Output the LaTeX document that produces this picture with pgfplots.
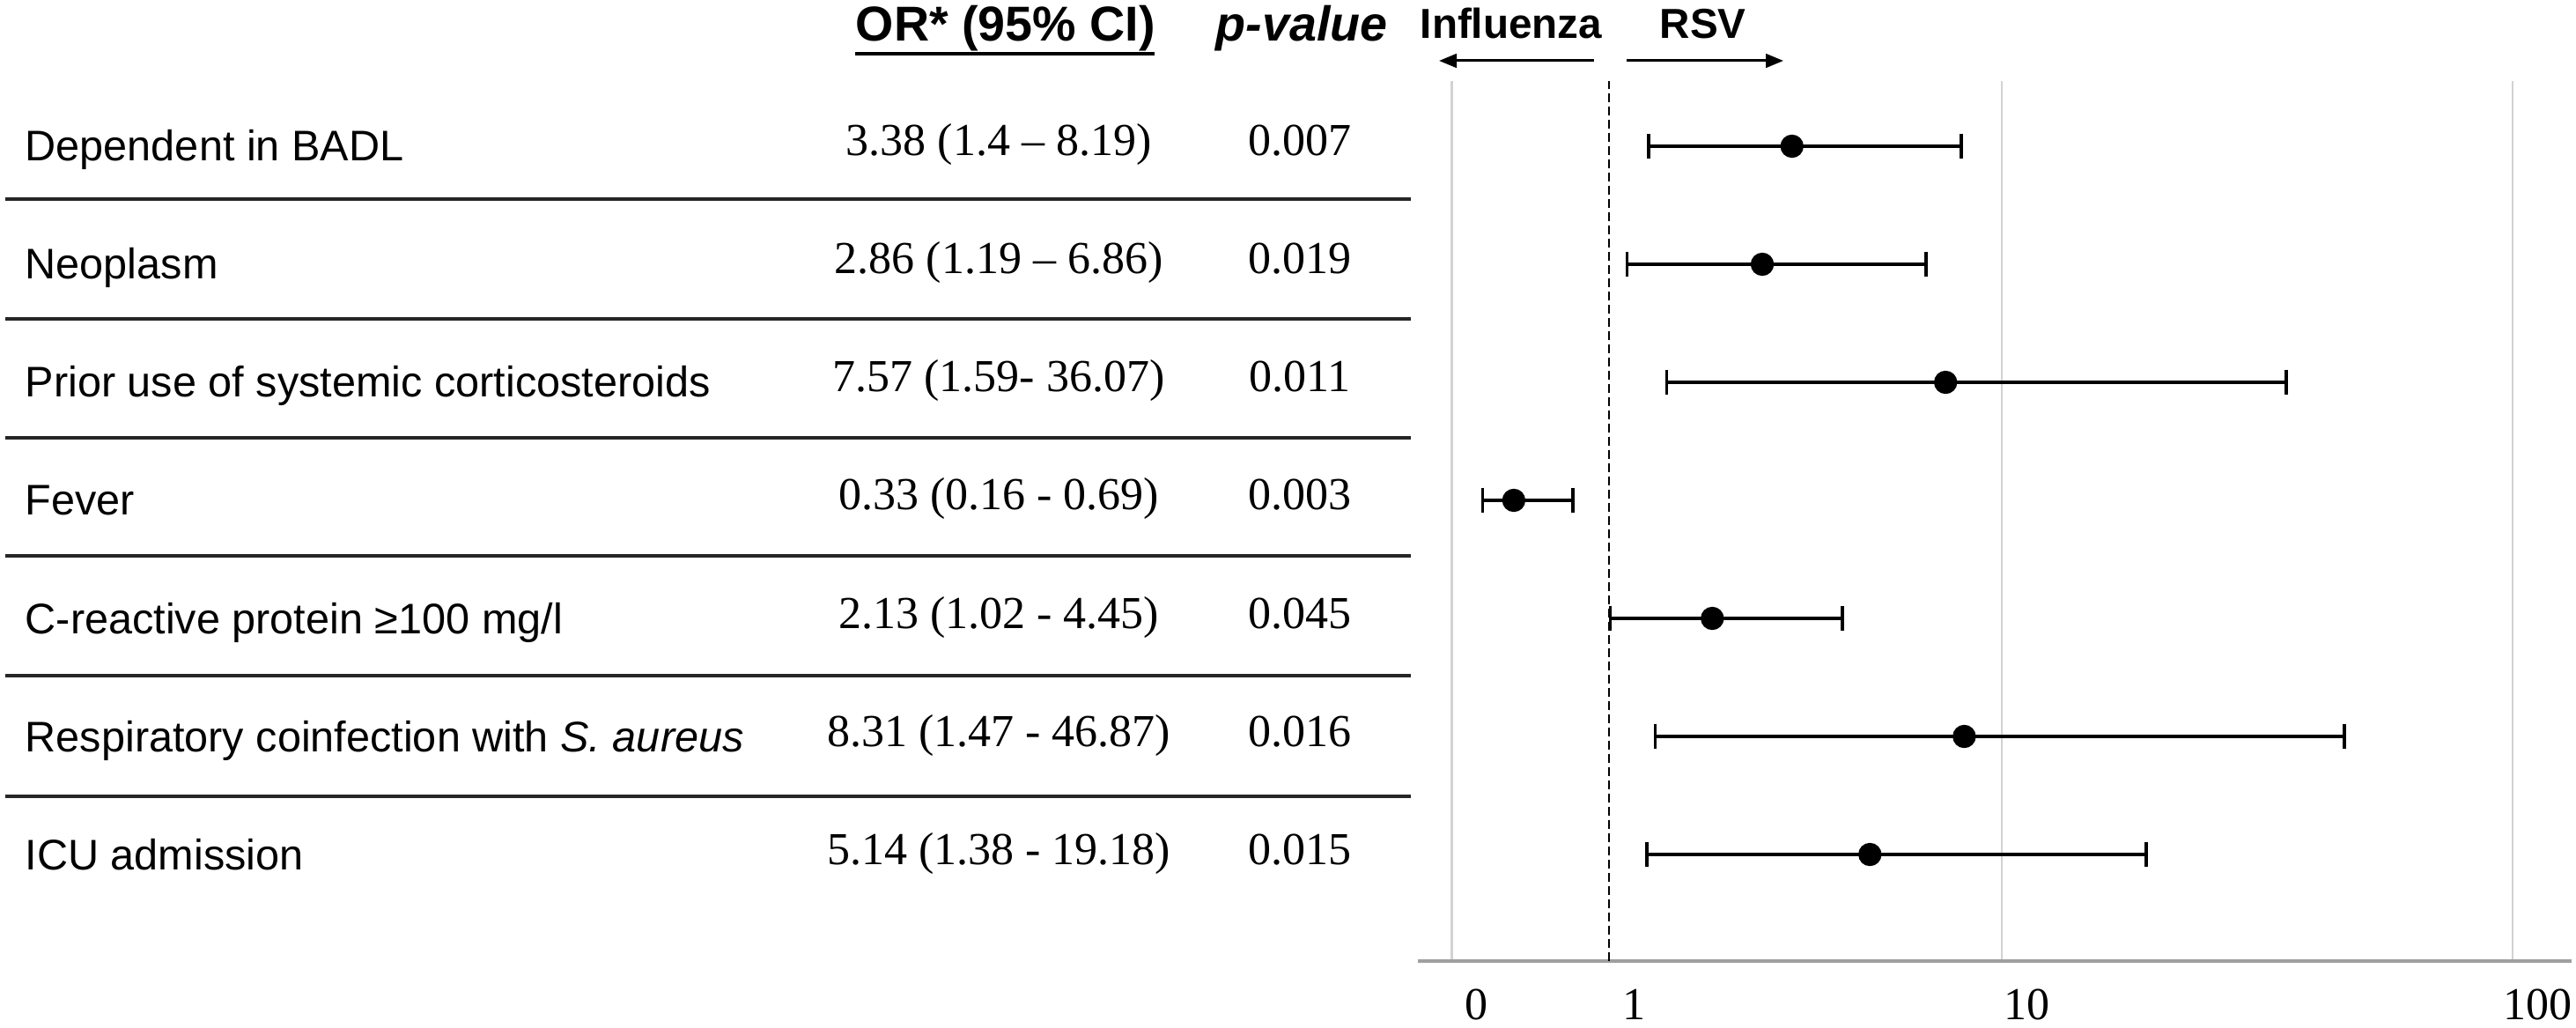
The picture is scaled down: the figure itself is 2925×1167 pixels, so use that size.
\documentclass[border=0pt]{standalone}
\usepackage{fontspec}
\setmainfont{Liberation Serif}
\setsansfont{Liberation Sans}
\usepackage{pgfplots}
\pgfplotsset{compat=1.18}
\usetikzlibrary{arrows.meta}

\newcommand\lab{\sffamily\fontsize{12.15bp}{14bp}\selectfont}
\newcommand\ser{\rmfamily\fontsize{13bp}{15bp}\selectfont}
\newcommand\hdr{\sffamily\bfseries\fontsize{13.9bp}{16bp}\selectfont}
\newcommand\hdrb{\sffamily\bfseries\fontsize{11.9bp}{14bp}\selectfont}

\begin{document}
\begin{tikzpicture}
\begin{scope}[x=0.25bp,y=-0.25bp]
\path[use as bounding box] (0,0) rectangle (2925,1167);
% headers
\node[anchor=base west,inner sep=0] at (971,47) {\hdr OR* (95\% CI)};
\draw[line width=1bp] (971,61) -- (1311,61);
\node[anchor=base west,inner sep=0] at (1380,47) {\hdr\itshape p-value};
\node[anchor=base west,inner sep=0] at (1612,44) {\hdrb Influenza};
\node[anchor=base west,inner sep=0] at (1884,44) {\hdrb RSV};
\draw[line width=0.75bp,-{Triangle[length=5bp,width=3.9bp]}] (1810,69) -- (1634,69);
\draw[line width=0.75bp,-{Triangle[length=5bp,width=3.9bp]}] (1847,69) -- (2025,69);
% separators
\foreach \yy in {226,362,497,631,767,904}
  \draw[line width=1bp,black!85] (6,\yy) -- (1602,\yy);
% rows
\node[anchor=base west,inner sep=0] at (28,183) {\lab Dependent in BADL};
\node[anchor=base west,inner sep=0] at (28,317) {\lab Neoplasm};
\node[anchor=base west,inner sep=0] at (28,451) {\lab Prior use of systemic corticosteroids};
\node[anchor=base west,inner sep=0] at (28,585) {\lab Fever};
\node[anchor=base west,inner sep=0] at (28,719) {\lab C-reactive protein ≥100 mg/l};
\node[anchor=base west,inner sep=0] at (28,853) {\lab Respiratory coinfection with \textit{S. aureus}};
\node[anchor=base west,inner sep=0] at (28,987) {\lab ICU admission};
\node[anchor=base,inner sep=0] at (1134,177) {\ser 3.38 (1.4 – 8.19)};
\node[anchor=base,inner sep=0] at (1134,311) {\ser 2.86 (1.19 – 6.86)};
\node[anchor=base,inner sep=0] at (1134,445) {\ser 7.57 (1.59- 36.07)};
\node[anchor=base,inner sep=0] at (1134,579) {\ser 0.33 (0.16 - 0.69)};
\node[anchor=base,inner sep=0] at (1134,713) {\ser 2.13 (1.02 - 4.45)};
\node[anchor=base,inner sep=0] at (1134,847) {\ser 8.31 (1.47 - 46.87)};
\node[anchor=base,inner sep=0] at (1134,981) {\ser 5.14 (1.38 - 19.18)};
\node[anchor=base,inner sep=0] at (1476,177) {\ser 0.007};
\node[anchor=base,inner sep=0] at (1476,311) {\ser 0.019};
\node[anchor=base,inner sep=0] at (1476,445) {\ser 0.011};
\node[anchor=base,inner sep=0] at (1476,579) {\ser 0.003};
\node[anchor=base,inner sep=0] at (1476,713) {\ser 0.045};
\node[anchor=base,inner sep=0] at (1476,847) {\ser 0.016};
\node[anchor=base,inner sep=0] at (1476,981) {\ser 0.015};
\end{scope}

\begin{axis}[
  at={(402.5bp,-272.75bp)}, anchor=south west,
  scale only axis, width=327.5bp, height=249.75bp,
  clip=false,
  x coord trafo/.code={%
    \begingroup
    \pgfkeys{/pgf/fpu=true,/pgf/fpu/output format=fixed}%
    \pgfmathparse{#1}%
    \let\myv\pgfmathresult
    \pgfkeys{/pgf/fpu=false}%
    \ifdim\myv pt<1pt
      \pgfmathparse{-0.4*pow(1-\myv,1.25)}%
    \else
      \ifdim\myv pt<10pt
        \ifdim\myv pt=1pt
          \def\pgfmathresult{0}%
        \else
          \pgfmathparse{pow(ln(\myv)/2.302585,1.2)}%
        \fi
      \else
        \pgfmathparse{1+1.3004*(ln(\myv)/2.302585-1)}%
      \fi
    \fi
    \pgfmathsmuggle\pgfmathresult
    \endgroup
  },
  xmin=-0.1697, xmax=130.5, ymin=0.097, ymax=7.552,
  axis x line*=bottom, axis y line=none,
  x axis line style={draw=gray!75, line width=0.85bp},
  xtick={0,10,100}, xticklabels={0,10,100},
  extra x ticks={1}, extra x tick labels={1},
  extra x tick style={grid=major, major grid style={draw=black, line width=0.55bp, dash pattern=on 2.5bp off 1.25bp}},
  xmajorgrids, major grid style={draw=gray!35, line width=0.6bp},
  major tick length=0pt, ytick=\empty,
  xticklabel style={font=\rmfamily\fontsize{13bp}{14bp}\selectfont, anchor=base, yshift=-16.5bp, xshift=7bp, inner sep=0pt},
]
% 95% CI (lower, upper) for each row
\addplot[black, line width=0.9bp, mark=|, mark size=3.6bp] coordinates {(1.4,7) (8.19,7)};
\addplot[black, line width=0.9bp, mark=|, mark size=3.6bp] coordinates {(1.19,6) (6.86,6)};
\addplot[black, line width=0.9bp, mark=|, mark size=3.6bp] coordinates {(1.59,5) (36.07,5)};
\addplot[black, line width=0.9bp, mark=|, mark size=3.6bp] coordinates {(0.16,4) (0.69,4)};
\addplot[black, line width=0.9bp, mark=|, mark size=3.6bp] coordinates {(1.02,3) (4.45,3)};
\addplot[black, line width=0.9bp, mark=|, mark size=3.6bp] coordinates {(1.47,2) (46.87,2)};
\addplot[black, line width=0.9bp, mark=|, mark size=3.6bp] coordinates {(1.38,1) (19.18,1)};
% odds ratios
\addplot[only marks, mark=*, mark size=3.1bp, black] coordinates {
  (3.38,7) (2.86,6) (7.57,5) (0.33,4) (2.13,3) (8.31,2) (5.14,1)};
\end{axis}
\end{tikzpicture}
\end{document}
